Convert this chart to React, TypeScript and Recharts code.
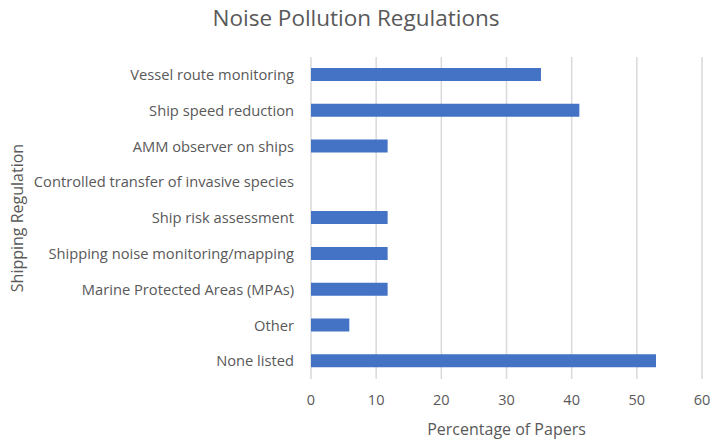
import React from "react";
import { BarChart, Bar, XAxis, YAxis, CartesianGrid } from "recharts";

// Shipping regulations, top to bottom as listed on the axis
const regulations = [
  "Vessel route monitoring",
  "Ship speed reduction",
  "AMM observer on ships",
  "Controlled transfer of invasive species",
  "Ship risk assessment",
  "Shipping noise monitoring/mapping",
  "Marine Protected Areas (MPAs)",
  "Other",
  "None listed",
];

// Percentage of papers mentioning each regulation
const percentages = [35.29, 41.18, 11.76, 0, 11.76, 11.76, 11.76, 5.88, 52.94];

const xTicks = [0, 10, 20, 30, 40, 50, 60];

const data = regulations.map((name, i) => ({ name, value: percentages[i] }));

const FONT = "'Open Sans', sans-serif";
const TEXT = "#595959";

export default function App() {
  return (
    <div style={{ position: "absolute", left: 0, top: 0, width: 712, height: 440, background: "#fff", fontFamily: FONT }}>
      <div
        style={{
          position: "absolute",
          left: 0,
          top: 2,
          width: 712,
          textAlign: "center",
          fontSize: 22.5,
          color: TEXT,
          fontFamily: FONT,
        }}
      >
        Noise Pollution Regulations
      </div>
      <BarChart
        width={712}
        height={440}
        data={data}
        layout="vertical"
        margin={{ top: 57, right: 10, bottom: 0, left: 0 }}
      >
        <CartesianGrid horizontal={false} vertical={true} stroke="#d9d9d9" strokeWidth={1.5} />
        <XAxis
          type="number"
          domain={[0, 60]}
          ticks={xTicks}
          axisLine={false}
          tickLine={false}
          tickSize={0}
          tickMargin={16}
          height={61}
          tick={{ fill: TEXT, fontSize: 14.5, fontFamily: FONT }}
          label={{
            value: "Percentage of Papers",
            position: "insideBottom",
            offset: 5,
            style: { fill: TEXT, fontSize: 16, fontFamily: FONT },
          }}
        />
        <YAxis
          type="category"
          dataKey="name"
          width={311}
          axisLine={false}
          tickLine={false}
          tickSize={0}
          tickMargin={17}
          interval={0}
          tick={{ fill: TEXT, fontSize: 14.7, fontFamily: FONT }}
          label={{
            value: "Shipping Regulation",
            angle: -90,
            position: "insideLeft",
            offset: 17,
            style: { fill: TEXT, fontSize: 16, fontFamily: FONT, textAnchor: "middle" },
          }}
        />
        <Bar dataKey="value" fill="#4472C4" barSize={13} isAnimationActive={false} />
      </BarChart>
    </div>
  );
}
